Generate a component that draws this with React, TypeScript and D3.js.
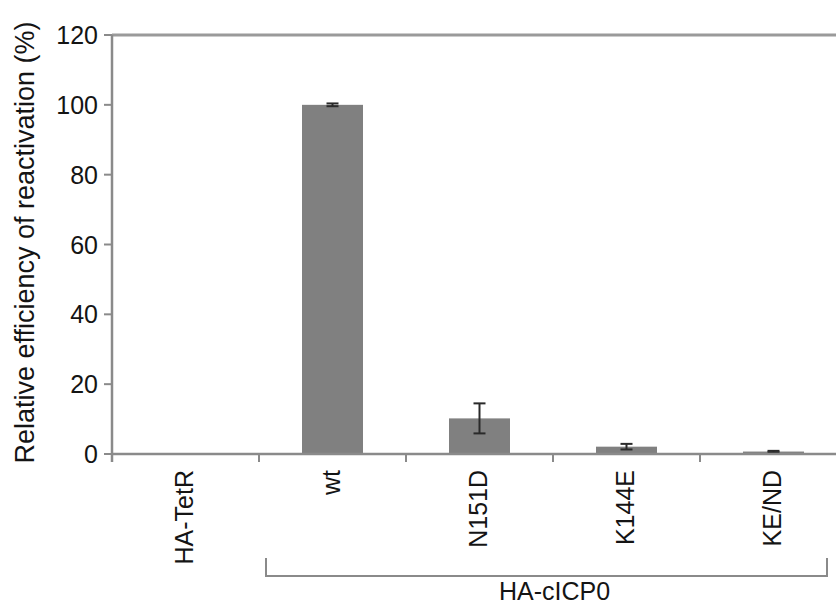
import * as d3 from 'd3'

const categories = ['HA-TetR', 'wt', 'N151D', 'K144E', 'KE/ND']
const values = [0.1, 100, 10.2, 2.1, 0.7]
const errors = [0, 0.4, 4.3, 0.8, 0.2]
const yTicks = [0, 20, 40, 60, 80, 100, 120]
const groupLabel = 'HA-cICP0'
const yTitle = 'Relative efficiency of reactivation (%)'

const W = 836
const H = 605
const PLOT = { left: 112, right: 847, top: 35, bottom: 454 }
const FONT = '"Liberation Sans", Arial, sans-serif'

export default function App() {
  const x = d3.scaleBand<string>()
    .domain(categories)
    .range([PLOT.left, PLOT.right])
    .paddingInner(0.585)
    .paddingOuter(0.2925)

  const y = d3.scaleLinear().domain([0, 120]).range([PLOT.bottom, PLOT.top])

  const step = x.step()
  const boundaries = d3.range(categories.length).map(i => PLOT.left + i * step)

  // bracket spans wt .. KE/ND
  const bx0 = x('wt')! + x.bandwidth() / 2 - step / 2 + 7
  const bx1 = x('KE/ND')! + x.bandwidth() / 2 + step / 2 - 20
  const bracketY = 576

  return (
    <svg width={W} height={H} style={{ position: 'absolute', left: 0, top: 0, background: '#fff' }}
      fontFamily={FONT}>
      {/* bars */}
      {categories.map((c, i) => (
        <rect key={c} x={x(c)} y={y(values[i])} width={x.bandwidth()}
          height={y(0) - y(values[i])} fill="#808080" />
      ))}
      {/* error bars */}
      {categories.map((c, i) => {
        if (!errors[i]) return null
        const cx = x(c)! + x.bandwidth() / 2
        const hi = y(values[i] + errors[i])
        const lo = y(values[i] - errors[i])
        return (
          <g key={c} stroke="#2a2a2a" strokeWidth={2}>
            <line x1={cx} x2={cx} y1={hi} y2={lo} />
            <line x1={cx - 6} x2={cx + 6} y1={hi} y2={hi} />
            <line x1={cx - 6} x2={cx + 6} y1={lo} y2={lo} />
          </g>
        )
      })}
      {/* top frame line */}
      <line x1={PLOT.left} x2={PLOT.right} y1={PLOT.top} y2={PLOT.top} stroke="#9a9a9a" strokeWidth={3} />
      {/* y axis */}
      <line x1={PLOT.left} x2={PLOT.left} y1={PLOT.top} y2={PLOT.bottom + 8} stroke="#8a8a8a" strokeWidth={2.5} />
      {yTicks.map(t => (
        <g key={t}>
          <line x1={PLOT.left - 8} x2={PLOT.left} y1={y(t)} y2={y(t)} stroke="#8a8a8a" strokeWidth={2} />
          <text x={98} y={y(t)} dy="0.36em" textAnchor="end" fontSize={25} fill="#141414">{t}</text>
        </g>
      ))}
      {/* x axis */}
      <line x1={PLOT.left} x2={PLOT.right} y1={PLOT.bottom} y2={PLOT.bottom} stroke="#8a8a8a" strokeWidth={2.5} />
      {boundaries.map((b, i) => (
        <line key={i} x1={b} x2={b} y1={PLOT.bottom} y2={PLOT.bottom + 8} stroke="#8a8a8a" strokeWidth={2} />
      ))}
      {categories.map(c => {
        const cx = x(c)! + x.bandwidth() / 2 - 2
        return (
          <text key={c} transform={`translate(${cx},470) rotate(-90)`} dy="0.36em" textAnchor="end"
            fontSize={25} fill="#141414">{c}</text>
        )
      })}
      {/* y title */}
      <text transform={`translate(24,${(15 + 470) / 2}) rotate(-90)`} dy="0.36em" textAnchor="middle"
        fontSize={27} fill="#141414">{yTitle}</text>
      {/* group bracket */}
      <path d={`M${bx0},${bracketY - 18}V${bracketY}H${bx1}V${bracketY - 18}`} fill="none" stroke="#8a8a8a" strokeWidth={2} />
      <text x={(bx0 + bx1) / 2 + 8} y={600} textAnchor="middle" fontSize={25} fill="#141414">{groupLabel}</text>
    </svg>
  )
}
